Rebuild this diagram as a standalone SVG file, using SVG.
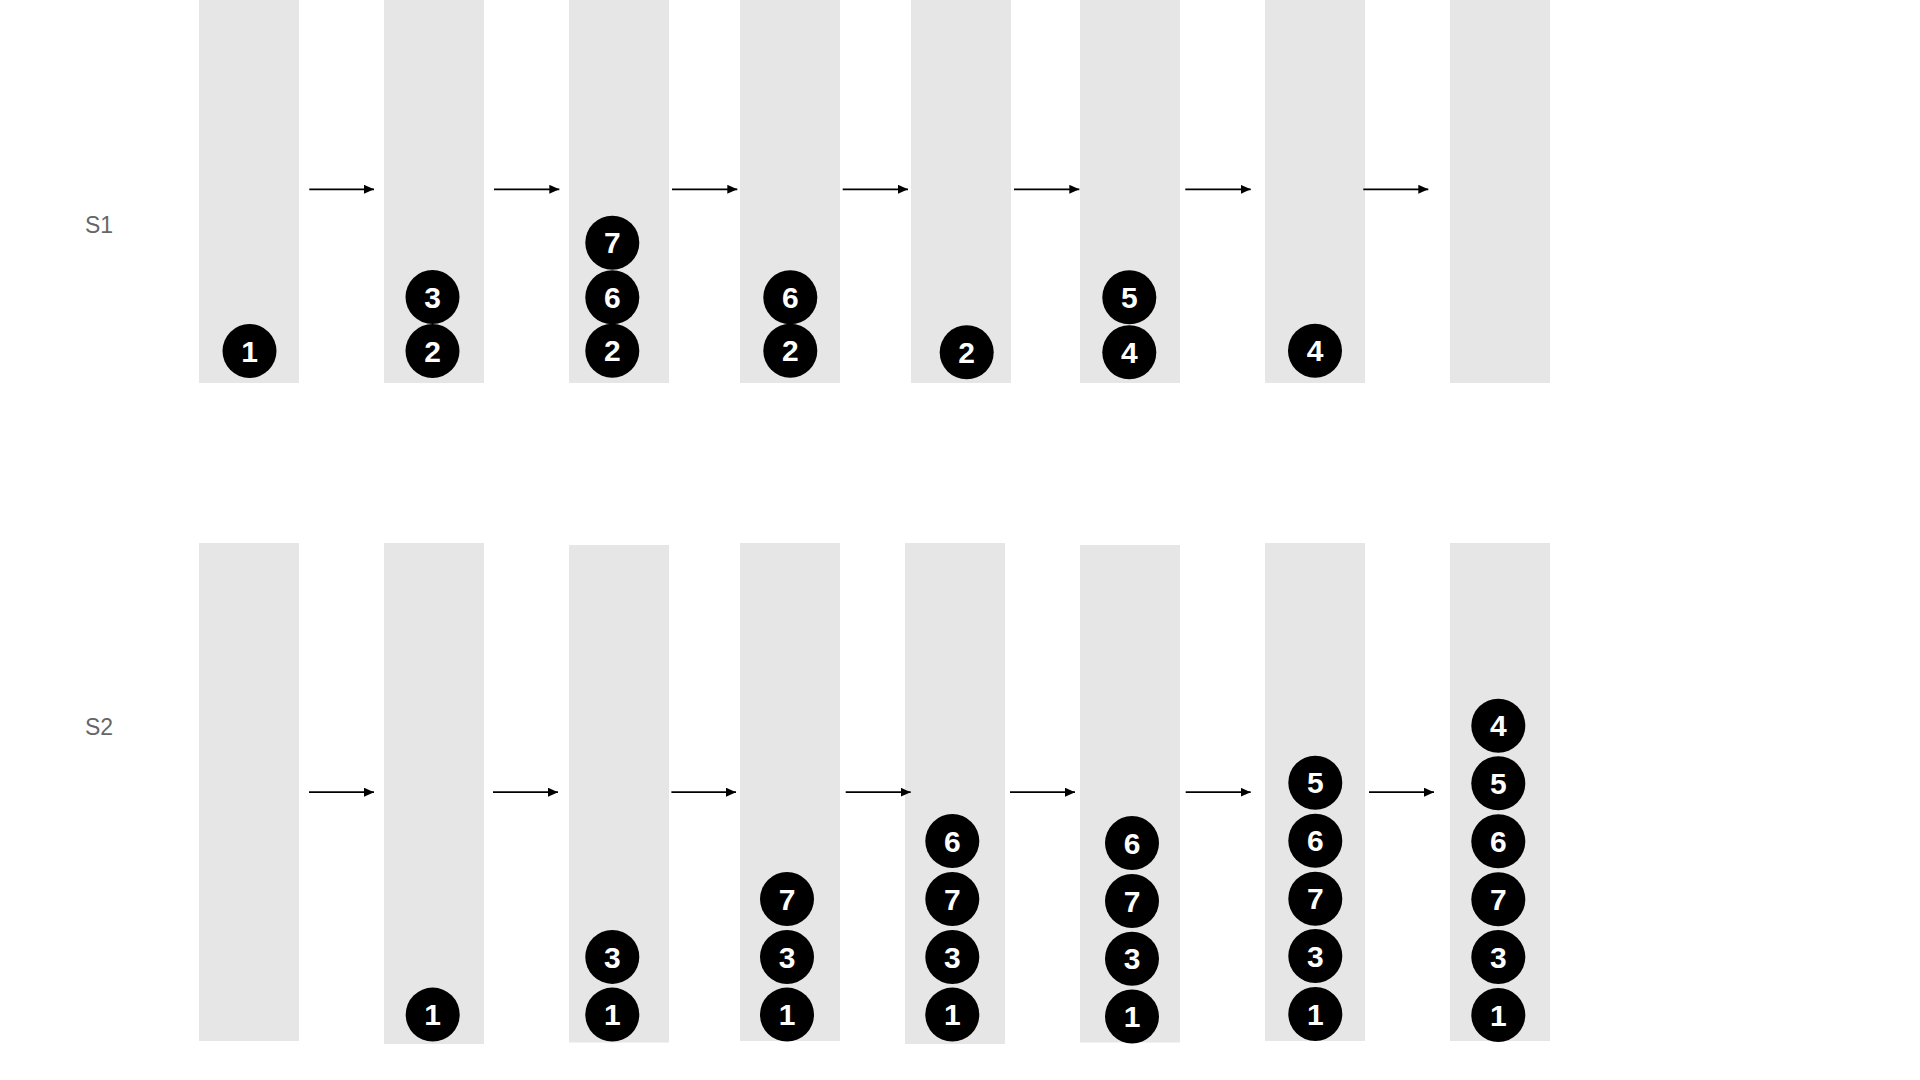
<svg xmlns="http://www.w3.org/2000/svg" width="1920" height="1080" viewBox="0 0 1920 1080">
<defs>
<style>
.col{fill:#e6e6e6}
.ball circle{fill:#000}
.ball text{fill:#fff;font-family:"Liberation Sans",Arial,sans-serif;font-weight:bold;font-size:30px;text-anchor:middle}
.lbl{fill:#666;font-family:"Liberation Sans",Arial,sans-serif;font-size:23px}
.arr{stroke:#000;stroke-width:1.8;fill:none;marker-end:url(#ah)}
</style>
<marker id="ah" markerUnits="userSpaceOnUse" markerWidth="11" markerHeight="10" refX="10" refY="4.5" orient="auto">
<path d="M0,0 L10,4.5 L0,9 z" fill="#000"/>
</marker>
</defs>
<rect width="1920" height="1080" fill="#fff"/>

<text class="lbl" x="85" y="233">S1</text>
<text class="lbl" x="85" y="735">S2</text>

<!-- Top row S1 -->
<g id="s1-c1"><rect class="col" x="199" y="0" width="100" height="383"/>
<g class="ball"><circle cx="249.5" cy="351" r="27"/><text x="249.5" y="361.7">1</text></g></g>
<g id="s1-c2"><rect class="col" x="384" y="0" width="100" height="383"/>
<g class="ball"><circle cx="432.5" cy="351" r="27"/><text x="432.5" y="361.7">2</text></g>
<g class="ball"><circle cx="432.5" cy="297" r="27"/><text x="432.5" y="307.7">3</text></g></g>
<g id="s1-c3"><rect class="col" x="569" y="0" width="100" height="383"/>
<g class="ball"><circle cx="612.3" cy="350.7" r="27"/><text x="612.3" y="361.4">2</text></g>
<g class="ball"><circle cx="612.3" cy="297.3" r="27"/><text x="612.3" y="308">6</text></g>
<g class="ball"><circle cx="612.3" cy="242.7" r="27"/><text x="612.3" y="253.4">7</text></g></g>
<g id="s1-c4"><rect class="col" x="740" y="0" width="100" height="383"/>
<g class="ball"><circle cx="790.3" cy="350.7" r="27"/><text x="790.3" y="361.4">2</text></g>
<g class="ball"><circle cx="790.3" cy="297.3" r="27"/><text x="790.3" y="308">6</text></g></g>
<g id="s1-c5"><rect class="col" x="911" y="0" width="100" height="383"/>
<g class="ball"><circle cx="966.7" cy="352.3" r="27"/><text x="966.7" y="363">2</text></g></g>
<g id="s1-c6"><rect class="col" x="1080" y="0" width="100" height="383"/>
<g class="ball"><circle cx="1129.3" cy="352.3" r="27"/><text x="1129.3" y="363">4</text></g>
<g class="ball"><circle cx="1129.3" cy="297.3" r="27"/><text x="1129.3" y="308">5</text></g></g>
<g id="s1-c7"><rect class="col" x="1265" y="0" width="100" height="383"/>
<g class="ball"><circle cx="1315" cy="350.7" r="27"/><text x="1315" y="361.4">4</text></g></g>
<g id="s1-c8"><rect class="col" x="1450" y="0" width="100" height="383"/></g>

<!-- Bottom row S2 -->
<g id="s2-c1"><rect class="col" x="199" y="543" width="100" height="498"/></g>
<g id="s2-c2"><rect class="col" x="384" y="543" width="100" height="501"/>
<g class="ball"><circle cx="432.7" cy="1014.6" r="27"/><text x="432.7" y="1025.3">1</text></g></g>
<g id="s2-c3"><rect class="col" x="569" y="545" width="100" height="497.5"/>
<g class="ball"><circle cx="612.3" cy="1014.6" r="27"/><text x="612.3" y="1025.3">1</text></g>
<g class="ball"><circle cx="612.3" cy="956.9" r="27"/><text x="612.3" y="967.6">3</text></g></g>
<g id="s2-c4"><rect class="col" x="740" y="543" width="100" height="498"/>
<g class="ball"><circle cx="787" cy="1014.6" r="27"/><text x="787" y="1025.3">1</text></g>
<g class="ball"><circle cx="787" cy="957" r="27"/><text x="787" y="967.7">3</text></g>
<g class="ball"><circle cx="787" cy="899" r="27"/><text x="787" y="909.7">7</text></g></g>
<g id="s2-c5"><rect class="col" x="905" y="543" width="100" height="501"/>
<g class="ball"><circle cx="952.3" cy="1014.6" r="27"/><text x="952.3" y="1025.3">1</text></g>
<g class="ball"><circle cx="952.3" cy="957" r="27"/><text x="952.3" y="967.7">3</text></g>
<g class="ball"><circle cx="952.3" cy="899" r="27"/><text x="952.3" y="909.7">7</text></g>
<g class="ball"><circle cx="952.3" cy="841" r="27"/><text x="952.3" y="851.7">6</text></g></g>
<g id="s2-c6"><rect class="col" x="1080" y="545" width="100" height="497.5"/>
<g class="ball"><circle cx="1132" cy="1016.5" r="27"/><text x="1132" y="1027.2">1</text></g>
<g class="ball"><circle cx="1132" cy="958.7" r="27"/><text x="1132" y="969.4">3</text></g>
<g class="ball"><circle cx="1132" cy="901" r="27"/><text x="1132" y="911.7">7</text></g>
<g class="ball"><circle cx="1132" cy="843" r="27"/><text x="1132" y="853.7">6</text></g></g>
<g id="s2-c7"><rect class="col" x="1265" y="543" width="100" height="498"/>
<g class="ball"><circle cx="1315.3" cy="1014" r="27"/><text x="1315.3" y="1024.7">1</text></g>
<g class="ball"><circle cx="1315.3" cy="956" r="27"/><text x="1315.3" y="966.7">3</text></g>
<g class="ball"><circle cx="1315.3" cy="898.7" r="27"/><text x="1315.3" y="909.4">7</text></g>
<g class="ball"><circle cx="1315.3" cy="840.7" r="27"/><text x="1315.3" y="851.4">6</text></g>
<g class="ball"><circle cx="1315.3" cy="782.7" r="27"/><text x="1315.3" y="793.4">5</text></g></g>
<g id="s2-c8"><rect class="col" x="1450" y="543" width="100" height="498"/>
<g class="ball"><circle cx="1498.3" cy="1015" r="27"/><text x="1498.3" y="1025.7">1</text></g>
<g class="ball"><circle cx="1498.3" cy="957" r="27"/><text x="1498.3" y="967.7">3</text></g>
<g class="ball"><circle cx="1498.3" cy="899.3" r="27"/><text x="1498.3" y="910">7</text></g>
<g class="ball"><circle cx="1498.3" cy="841.3" r="27"/><text x="1498.3" y="852">6</text></g>
<g class="ball"><circle cx="1498.3" cy="783.3" r="27"/><text x="1498.3" y="794">5</text></g>
<g class="ball"><circle cx="1498.3" cy="725.7" r="27"/><text x="1498.3" y="736.4">4</text></g></g>

<g id="connectors">
<line class="arr" x1="309.3" y1="189.3" x2="374" y2="189.3"/>
<line class="arr" x1="494" y1="189.3" x2="559.3" y2="189.3"/>
<line class="arr" x1="672" y1="189.3" x2="737.3" y2="189.3"/>
<line class="arr" x1="842.7" y1="189.3" x2="908" y2="189.3"/>
<line class="arr" x1="1014" y1="189.3" x2="1079.3" y2="189.3"/>
<line class="arr" x1="1185.3" y1="189.3" x2="1250.7" y2="189.3"/>
<line class="arr" x1="1363.3" y1="189.3" x2="1428.3" y2="189.3"/>
<line class="arr" x1="309" y1="792.2" x2="374" y2="792.2"/>
<line class="arr" x1="493" y1="792.2" x2="558" y2="792.2"/>
<line class="arr" x1="671.4" y1="792.2" x2="736" y2="792.2"/>
<line class="arr" x1="845.7" y1="792.2" x2="910.7" y2="792.2"/>
<line class="arr" x1="1010" y1="792.2" x2="1075" y2="792.2"/>
<line class="arr" x1="1185.7" y1="792.2" x2="1250.7" y2="792.2"/>
<line class="arr" x1="1369" y1="792.2" x2="1434" y2="792.2"/>
</g>
</svg>
